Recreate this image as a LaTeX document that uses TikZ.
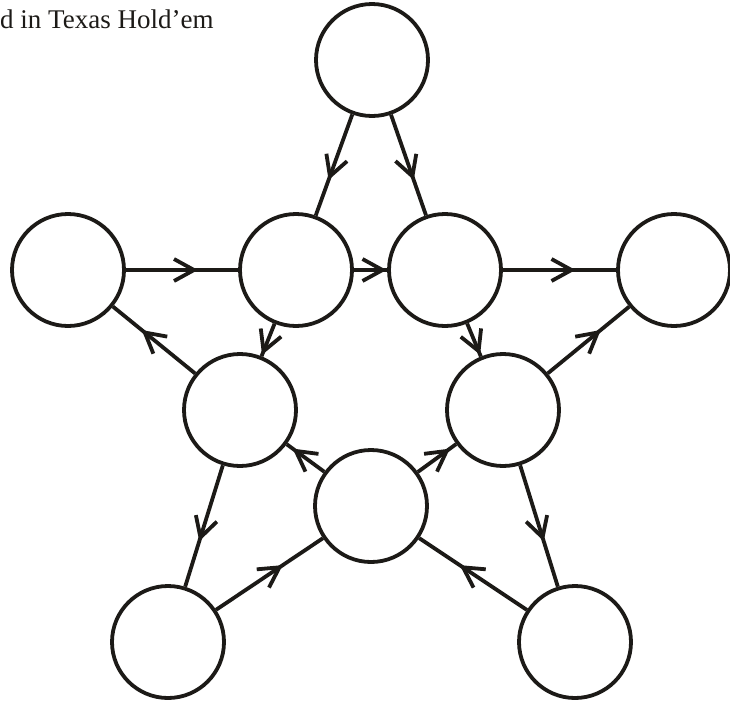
\documentclass[tikz,border=0pt]{standalone}
\usepackage{fontspec}
\setmainfont{Liberation Serif}
\usetikzlibrary{decorations.markings}
\definecolor{ink}{RGB}{28,26,23}
\tikzset{
  state/.style={circle, draw=ink, line width=3.8pt, minimum size=112pt, inner sep=0pt, fill=white},
  barb/.style={draw=ink, line width=3.8pt, line join=miter, line cap=butt},
  edge/.style={line width=3.8pt, draw=ink,
    postaction={decorate, decoration={markings,
      mark=at position 0.5 with {\draw[barb] (-8pt,11pt) -- (12pt,0pt) -- (-8pt,-11pt);}}}},
  caption/.style={font=\fontsize{27}{31}\selectfont, inner sep=0pt, anchor=base west, text=ink}
}
\begin{document}
\begin{tikzpicture}[x=1pt,y=-1pt]
\useasboundingbox (0,0) rectangle (730,702);
\node[caption] (title) at (0,28) {d in Texas Hold’em};
\node[state] (top) at (372,60) {};
\node[state] (left) at (68,270) {};
\node[state] (right) at (674,270) {};
\node[state] (itl) at (296,270) {};
\node[state] (itr) at (445,270) {};
\node[state] (il) at (240,410) {};
\node[state] (ir) at (503,410) {};
\node[state] (ib) at (371,506) {};
\node[state] (bl) at (168,642) {};
\node[state] (br) at (575,642) {};
\draw[edge] (top) -- (itl);
\draw[edge] (top) -- (itr);
\draw[edge] (left) -- (itl);
\draw[edge] (itl) -- (itr);
\draw[edge] (itr) -- (right);
\draw[edge] (itl) -- (il);
\draw[edge] (il) -- (left);
\draw[edge] (itr) -- (ir);
\draw[edge] (ir) -- (right);
\draw[edge] (il) -- (bl);
\draw[edge] (bl) -- (ib);
\draw[edge] (ib) -- (il);
\draw[edge] (ib) -- (ir);
\draw[edge] (ir) -- (br);
\draw[edge] (br) -- (ib);
\end{tikzpicture}
\end{document}
